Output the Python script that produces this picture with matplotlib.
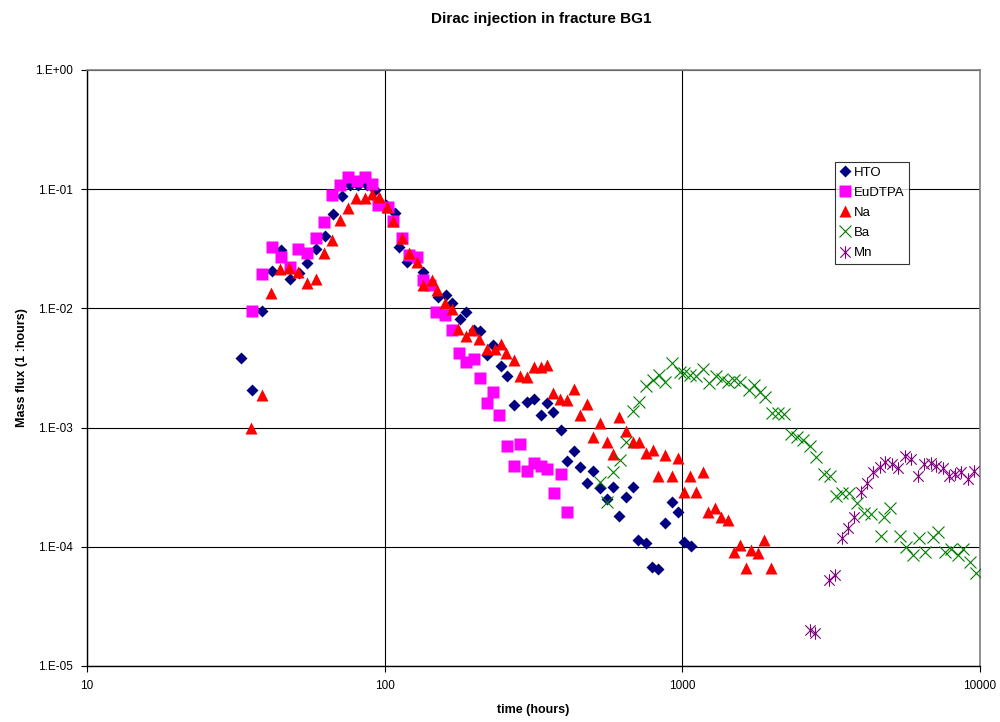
import numpy as np
import matplotlib
matplotlib.use('Agg')
import matplotlib.pyplot as plt
from matplotlib.path import Path
from matplotlib.ticker import FuncFormatter, FixedLocator, NullLocator

plt.rcParams['font.family'] = ['Liberation Sans', 'DejaVu Sans']

# ---- data (time in hours, mass flux in 1/hours)
hto_t = [32.9, 35.8, 38.6, 41.7, 44.8, 47.9, 51.7, 54.7, 59.0, 63.0, 66.8, 71.7, 76.4, 81.3, 87.0,
         92.7, 101, 108, 112, 119, 135, 151, 161, 168, 179, 187, 199, 209, 220, 232, 245, 258,
         272, 301, 317, 334, 352, 368, 390, 411, 433, 453, 477, 502, 528, 557, 586, 614, 647,
         681, 711, 753, 789, 830, 874, 920, 964, 1014, 1069]
hto_y = [0.00383, 0.00207, 0.00955, 0.0207, 0.0308, 0.0178, 0.0197, 0.0241, 0.0312, 0.0404, 0.0614,
         0.0879, 0.108, 0.108, 0.108, 0.098, 0.0734, 0.0633, 0.033, 0.0244, 0.0203, 0.0125, 0.0129,
         0.0110, 0.0082, 0.0094, 0.0066, 0.0064, 0.0041, 0.0049, 0.0033, 0.0027, 0.00155, 0.00165,
         0.00175, 0.00128, 0.0016, 0.00136, 0.00095, 0.00052, 0.00063, 0.00047, 0.00034, 0.00043,
         0.00031, 0.00025, 0.00032, 0.00018, 0.00026, 0.00032, 0.000114, 0.000108, 6.8e-5, 6.5e-5,
         0.000158, 0.000237, 0.000197, 0.000109, 0.000102]

eu_t = [35.9, 38.6, 41.7, 44.8, 48.1, 51.3, 54.7, 58.6, 62.5, 66.4, 70.7, 75.5, 80.8, 86.0, 90.5,
        95.3, 103, 107, 114, 121, 128, 135, 142, 149, 160, 168, 178, 187, 199, 209, 220, 232, 243,
        258, 272, 285, 301, 317, 334, 352, 370, 390, 411]
eu_y = [0.00955, 0.0193, 0.0325, 0.0271, 0.0223, 0.0312, 0.0292, 0.0386, 0.0532, 0.0891, 0.109,
        0.127, 0.117, 0.127, 0.110, 0.0734, 0.071, 0.0542, 0.0386, 0.028, 0.027, 0.0173, 0.0157,
        0.0094, 0.0088, 0.0066, 0.00425, 0.00356, 0.00375, 0.00259, 0.00162, 0.0020, 0.00128,
        0.000705, 0.000477, 0.000725, 0.000435, 0.0005, 0.000477, 0.000445, 0.000284, 0.00041,
        0.000194]

na_t = [35.5, 38.7, 41.4, 44.6, 47.8, 51.2, 54.7, 58.6, 62.5, 66.4, 70.7, 75.5, 80.2, 85.6, 90.5,
        96, 101.6, 107, 114, 121, 128, 135, 144, 150, 160, 168, 177, 187, 197, 208, 220, 234, 245,
        256, 272, 285, 301, 317, 334, 352, 368, 387, 411, 433, 453, 479, 502, 528, 557, 583, 614,
        647, 681, 716, 756, 795, 830, 874, 920, 964, 1014, 1063, 1113, 1171, 1224, 1287, 1353,
        1422, 1486, 1562, 1642, 1706, 1794, 1886, 1982]
na_y = [0.00099, 0.00187, 0.0135, 0.0212, 0.0220, 0.0203, 0.0164, 0.0178, 0.0289, 0.0374, 0.055,
        0.0689, 0.0836, 0.0836, 0.0908, 0.0863, 0.0703, 0.054, 0.0386, 0.0289, 0.0246, 0.0157,
        0.0173, 0.0142, 0.0110, 0.0098, 0.00667, 0.00586, 0.0066, 0.0055, 0.00453, 0.0046, 0.0050,
        0.00425, 0.00369, 0.0027, 0.00264, 0.00324, 0.00324, 0.00335, 0.00196, 0.00173, 0.0017,
        0.0021, 0.00128, 0.00158, 0.00083, 0.0011, 0.00076, 0.0006, 0.00123, 0.00094, 0.00075,
        0.00075, 0.00061, 0.00065, 0.00039, 0.00059, 0.00039, 0.00056, 0.00029, 0.00039, 0.00029,
        0.00042, 0.000197, 0.00021, 0.000179, 0.000168, 9.0e-5, 0.000104, 6.6e-5, 9.4e-5, 8.9e-5,
        0.000114, 6.6e-5]

ba_t = [528, 557, 586, 616, 647, 681, 716, 756, 795, 836, 874, 920, 982, 1016, 1061, 1113, 1171,
        1232, 1296, 1362, 1425, 1490, 1567, 1670, 1735, 1826, 1896, 1998, 2093, 2203, 2317, 2420,
        2547, 2680, 2816, 2986, 3140, 3282, 3452, 3632, 3873, 4074, 4288, 4645, 4741, 4986, 5382,
        5660, 5955, 6260, 6544, 6933, 7245, 7626, 8018, 8434, 8771, 9237, 9720]
ba_y = [0.00035, 0.000239, 0.00042, 0.00053, 0.00075, 0.00139, 0.00165, 0.00223, 0.0025, 0.00276,
        0.0024, 0.00346, 0.00294, 0.00285, 0.00276, 0.0027, 0.00308, 0.00237, 0.0027, 0.00254,
        0.00243, 0.0025, 0.00243, 0.00206, 0.00228, 0.0020, 0.00182, 0.00133, 0.00133, 0.00131,
        0.00088, 0.00084, 0.00079, 0.0007, 0.00057, 0.00041, 0.00039, 0.000267, 0.00028, 0.00028,
        0.000232, 0.000191, 0.00019, 0.000123, 0.000179, 0.00021, 0.000123, 0.0001, 8.5e-5,
        0.000118, 9.1e-5, 0.00012, 0.000134, 9.1e-5, 9.5e-5, 8.5e-5, 9.5e-5, 7.5e-5, 6.0e-5]

mn_t = [2680, 2800, 3100, 3260, 3430, 3590, 3760, 3985, 4165, 4383, 4600, 4800, 5060, 5320, 5600,
        5860, 6170, 6500, 6830, 7140, 7520, 7860, 8270, 8650, 9090, 9560]
mn_y = [2.0e-5, 1.9e-5, 5.3e-5, 5.8e-5, 0.000118, 0.000143, 0.000179, 0.00029, 0.000345, 0.00042,
        0.000465, 0.00051, 0.00049, 0.00046, 0.00058, 0.00055, 0.00039, 0.000495, 0.0005, 0.00048,
        0.000456, 0.00039, 0.00041, 0.00042, 0.00037, 0.00043]

# asterisk marker: x plus vertical stroke
star = Path([(-1, -1), (1, 1), (-1, 1), (1, -1), (0, -1.2), (0, 1.2)],
            [Path.MOVETO, Path.LINETO, Path.MOVETO, Path.LINETO, Path.MOVETO, Path.LINETO])

fig = plt.figure(figsize=(10, 7.22), dpi=100)
ax = fig.add_axes([0.087, 0.0776, 0.893, 0.8255])

ax.plot(hto_t, hto_y, 'D', color='#000080', ms=6.5, mec='none', label='HTO', zorder=3)
ax.plot(eu_t, eu_y, 's', color='#FF00FF', ms=8, mec='none', label='EuDTPA', zorder=3)
ax.plot(na_t, na_y, '^', color='#FF0000', ms=9, mec='none', label='Na', zorder=3)
ax.plot(ba_t, ba_y, 'x', color='#008000', ms=9, mew=0.8, label='Ba', zorder=3)
ax.plot(mn_t, mn_y, marker=star, ls='none', color='#800080', ms=9, mew=0.8,
        mfc='none', label='Mn', zorder=3)

ax.set_xscale('log')
ax.set_yscale('log')
ax.set_xlim(10, 10000)
ax.set_ylim(1e-5, 1)
ax.xaxis.set_major_locator(FixedLocator([10, 100, 1000, 10000]))
ax.yaxis.set_major_locator(FixedLocator([1e-5, 1e-4, 1e-3, 1e-2, 1e-1, 1]))
ax.xaxis.set_minor_locator(NullLocator())
ax.yaxis.set_minor_locator(NullLocator())
ax.xaxis.set_major_formatter(FuncFormatter(lambda v, p: f"{v:g}"))
ax.yaxis.set_major_formatter(FuncFormatter(lambda v, p: f"1.E{int(round(np.log10(v))):+03d}"))
ax.tick_params(labelsize=8.5, length=4, width=0.8, pad=6)

ax.grid(True, color='black', lw=0.8)
ax.set_axisbelow(True)
for s in ['top', 'right']:
    ax.spines[s].set_color('#808080')
    ax.spines[s].set_linewidth(1.2)
for s in ['left', 'bottom']:
    ax.spines[s].set_linewidth(1.0)

ax.set_xlabel('time (hours)', fontsize=9, fontweight='bold', labelpad=9)
ax.set_ylabel('Mass flux (1 :hours)', fontsize=9, fontweight='bold', labelpad=5)
fig.text(0.541, 0.973, 'Dirac injection in fracture BG1', ha='center', va='center',
         fontsize=11, fontweight='bold')

leg = ax.legend(loc='upper left', bbox_to_anchor=(0.838, 0.846), fontsize=9.5, frameon=True,
                fancybox=False, edgecolor='black', borderpad=0.35, labelspacing=0.6,
                handlelength=0.8, handletextpad=0.25, borderaxespad=0)
leg.get_frame().set_linewidth(0.8)

fig.savefig('out.png', dpi=100)
